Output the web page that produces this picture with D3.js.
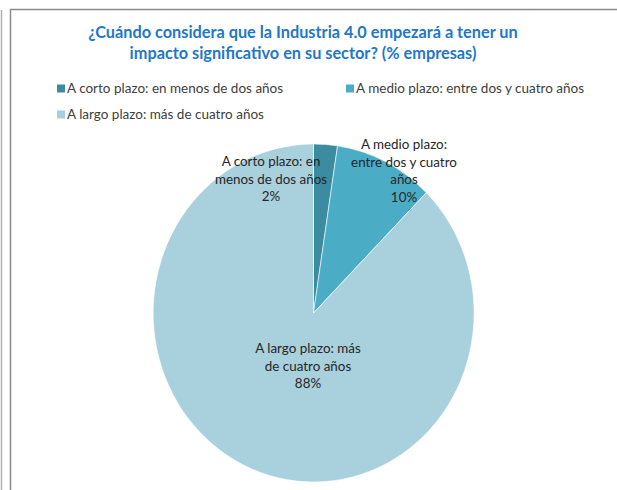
<!DOCTYPE html>
<html>
<head>
<meta charset="utf-8">
<script src="https://cdn.jsdelivr.net/npm/d3@7"></script>
<style>
  html, body { margin: 0; padding: 0; background: #fff; }
  svg { display: block; }
</style>
</head>
<body>
<div id="chart"></div>
<script>
// Pie chart: when Industry 4.0 will have a significant impact (% companies)
var categories = [
    'A corto plazo: en menos de dos años',
    'A medio plazo: entre dos y cuatro años',
    'A largo plazo: más de cuatro años'
];
var values = [2.4, 10.0, 87.6];
var colors = ['#3b8ba1', '#4bacc6', '#a9d0dd'];
// data label lines as wrapped in the original
var labelLines = [
    ['A corto plazo: en', 'menos de dos años'],
    ['A medio plazo:', 'entre dos y cuatro', 'años'],
    ['A largo plazo: más', 'de cuatro años']
];
var titleLines = [
    '¿Cuándo considera que la Industria 4.0 empezará a tener un',
    'impacto significativo en su sector? (% empresas)'
];

var W = 617, H = 490;
var FONT = "Lato, 'Open Sans', sans-serif";

var svg = d3.select('#chart').append('svg')
    .attr('width', W).attr('height', H);

// frame lines of the cropped chart area
svg.append('line').attr('x1', 1.5).attr('x2', 1.5).attr('y1', 10).attr('y2', H)
    .attr('stroke', '#b0b0b0').attr('stroke-width', 1.5);
svg.append('line').attr('x1', 10.5).attr('x2', 10.5).attr('y1', 9).attr('y2', H)
    .attr('stroke', '#8a8a8a').attr('stroke-width', 1.5);
svg.append('line').attr('x1', 10).attr('x2', W).attr('y1', 9.5).attr('y2', 9.5)
    .attr('stroke', '#8a8a8a').attr('stroke-width', 1.5);

// title
svg.append('text')
    .attr('x', 303).attr('y', 38)
    .attr('text-anchor', 'middle')
    .attr('font-family', FONT).attr('font-weight', 'bold')
    .attr('font-size', 16.3).attr('fill', '#2277c8')
    .selectAll('tspan').data(titleLines).join('tspan')
    .attr('x', 303)
    .attr('dy', function (d, i) { return i === 0 ? 0 : 21; })
    .text(function (d) { return d; });

// legend
var legendPos = [[57, 93], [346, 93], [57, 119]];
var lg = svg.append('g').selectAll('g').data(categories).join('g')
    .attr('transform', function (d, i) {
        return 'translate(' + legendPos[i][0] + ',' + legendPos[i][1] + ')';
    });
lg.append('rect')
    .attr('x', 0).attr('y', -8.5).attr('width', 8).attr('height', 8)
    .attr('fill', function (d, i) { return colors[i]; });
lg.append('text')
    .attr('x', 10).attr('y', 0)
    .attr('font-family', FONT).attr('font-size', 13.5)
    .attr('fill', '#404040')
    .text(function (d) { return d; });

// pie (slightly taller than wide, as in the original)
var cx = 313.5, cy = 313, rx = 160.5, ry = 169;
var pie = d3.pie().sort(null).value(function (d) { return d; });
var arcs = pie(values);
var arc = d3.arc().innerRadius(0).outerRadius(1);

var pg = svg.append('g')
    .attr('transform', 'translate(' + cx + ',' + cy + ') scale(' + rx + ',' + ry + ')');
pg.selectAll('path').data(arcs).join('path')
    .attr('d', arc)
    .attr('fill', function (d, i) { return colors[i]; })
    .attr('stroke', '#ffffff').attr('stroke-width', 0.6)
    .attr('vector-effect', 'non-scaling-stroke');

// data labels: [x, y of first line]
var labelPos = [[271, 166], [404, 149], [308, 353]];
var lh = 17.5;
var dl = svg.append('g').selectAll('text').data(arcs).join('text')
    .attr('text-anchor', 'middle')
    .attr('font-family', FONT).attr('font-size', 13.4)
    .attr('fill', '#262626');
dl.each(function (d, i) {
    var t = d3.select(this);
    var lines = labelLines[i].concat([Math.round(d.data) + '%']);
    t.selectAll('tspan').data(lines).join('tspan')
        .attr('x', labelPos[i][0])
        .attr('y', function (s, j) { return labelPos[i][1] + j * lh; })
        .text(function (s) { return s; });
});
</script>
</body>
</html>
